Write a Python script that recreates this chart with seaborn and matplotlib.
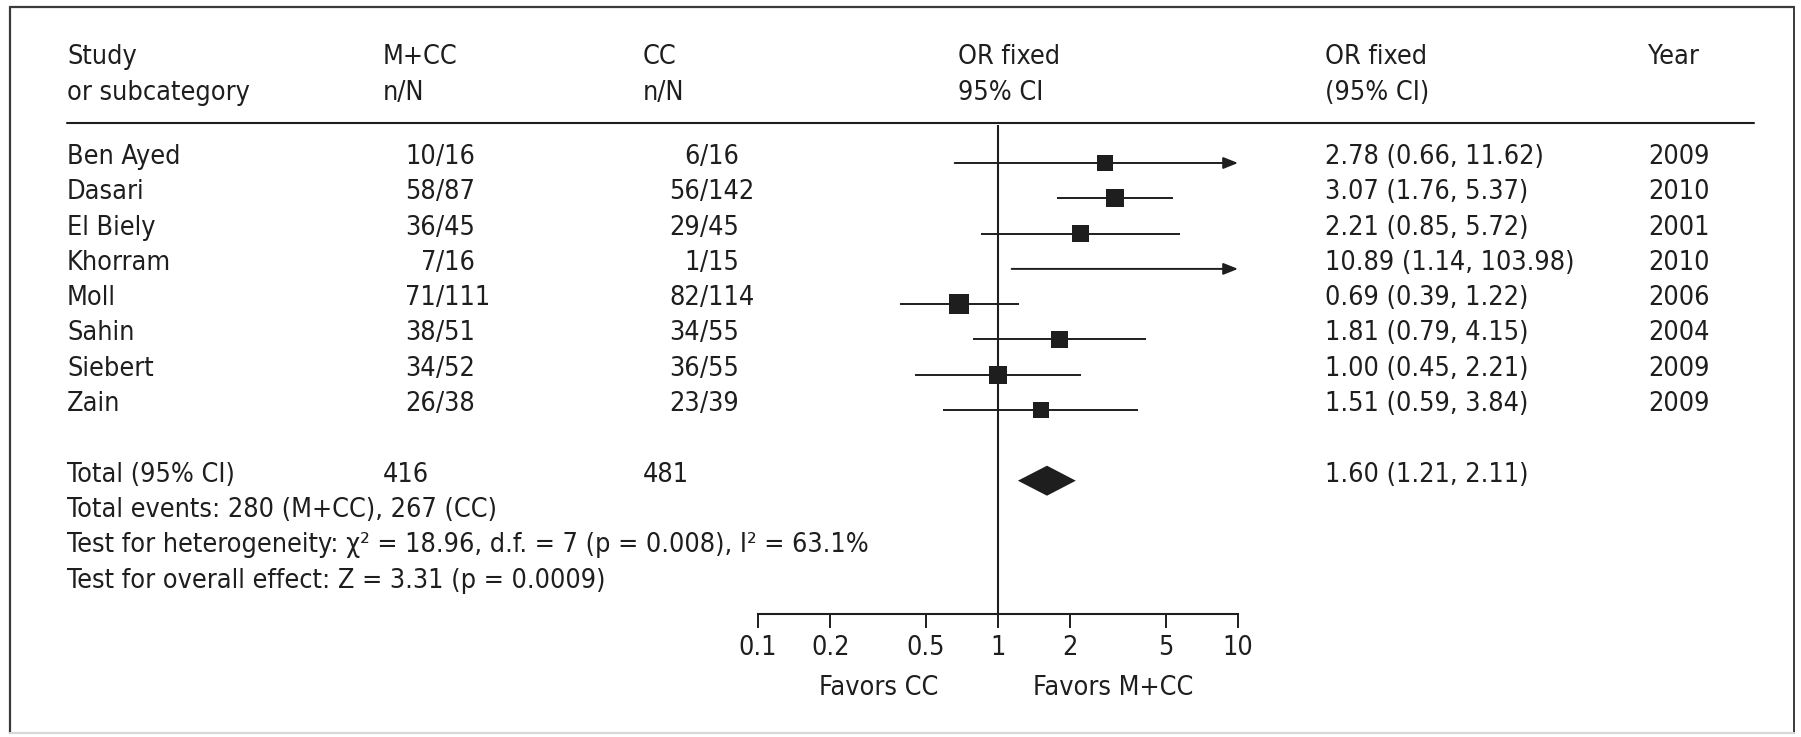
import os
import numpy as np
import pandas as pd
import matplotlib
matplotlib.use("Agg")
import matplotlib.pyplot as plt
import matplotlib.transforms as mtransforms
from matplotlib.font_manager import FontProperties, findSystemFonts, fontManager
from matplotlib.lines import Line2D
from matplotlib.ticker import NullLocator
import seaborn as sns

# ---------------- data ----------------
studies = ["Ben Ayed", "Dasari", "El Biely", "Khorram", "Moll", "Sahin", "Siebert", "Zain"]
mcc_n = [10, 58, 36, 7, 71, 38, 34, 26]
mcc_N = [16, 87, 45, 16, 111, 51, 52, 38]
cc_n = [6, 56, 29, 1, 82, 34, 36, 23]
cc_N = [16, 142, 45, 15, 114, 55, 55, 39]
or_est = [2.78, 3.07, 2.21, 10.89, 0.69, 1.81, 1.00, 1.51]
ci_low = [0.66, 1.76, 0.85, 1.14, 0.39, 0.79, 0.45, 0.59]
ci_high = [11.62, 5.37, 5.72, 103.98, 1.22, 4.15, 2.21, 3.84]
years = [2009, 2010, 2001, 2010, 2006, 2004, 2009, 2009]
# study weights (%), Mantel-Haenszel, derived from the n/N counts
weights = [2.8, 17.8, 7.3, 0.7, 36.6, 10.5, 15.2, 9.0]

total_mcc = 416
total_cc = 481
total_or = 1.60
total_low = 1.21
total_high = 2.11
footnotes = [
    "Total events: 280 (M+CC), 267 (CC)",
    "Test for heterogeneity: \u03c7\u00b2 = 18.96, d.f. = 7 (p = 0.008), I\u00b2 = 63.1%",
    "Test for overall effect: Z = 3.31 (p = 0.0009)",
]
tick_values = [0.1, 0.2, 0.5, 1, 2, 5, 10]
tick_labels = ["0.1", "0.2", "0.5", "1", "2", "5", "10"]
header_top = ["Study", "M+CC", "CC", "OR fixed", "OR fixed", "Year"]
header_bottom = ["or subcategory", "n/N", "n/N", "95% CI", "(95% CI)", ""]
favors = ["Favors CC", "Favors M+CC"]

# ---------------- style ----------------
sns.set_theme(style="white")
INK = "#1e1e1e"


def pick_font():
    cands = [("dejavusanscondensed.ttf", 19.4),
             ("liberationsansnarrow-regular.ttf", 22.0),
             ("robotocondensed-regular.ttf", 20.5)]
    files = {}
    try:
        allf = list(findSystemFonts()) + [e.fname for e in fontManager.ttflist]
    except Exception:
        allf = [e.fname for e in fontManager.ttflist]
    for f in allf:
        files.setdefault(os.path.basename(f).lower(), f)
    for name, size in cands:
        if name in files:
            return FontProperties(fname=files[name], size=size)
    return FontProperties(family="DejaVu Sans", size=16.5)


fp = pick_font()
plt.rcParams["font.family"] = ["DejaVu Sans"]

W, H = 1801, 737
fig = plt.figure(figsize=(W / 100, H / 100), dpi=100)
fig.patch.set_facecolor("white")


def fx(px):
    return px / W


def fy(py):
    return 1 - py / H


ROW0, ROWH = 163.0, 35.3
AX_TOP, AX_BOT, AX_L, AX_R = 125.0, 614.0, 758.0, 1238.0
ax = fig.add_axes([fx(AX_L), fy(AX_BOT), (AX_R - AX_L) / W, (AX_BOT - AX_TOP) / H])
ax.set_facecolor("none")
ax.set_xscale("log")
ax.set_xlim(0.1, 10)
ax.set_ylim((AX_BOT - ROW0) / ROWH, (AX_TOP - ROW0) / ROWH)

n = len(studies)
rows = np.arange(n)
TOTAL_ROW = n + 1

df = pd.DataFrame({"study": studies, "or": or_est, "lo": ci_low, "hi": ci_high,
                   "weight": weights, "row": rows})

# confidence intervals
for _, r in df.iterrows():
    lo = max(r["lo"], 0.1)
    if r["hi"] > 10:
        ax.annotate("", xy=(10, r["row"]), xytext=(lo, r["row"]),
                    arrowprops=dict(arrowstyle="-|>,head_length=0.4,head_width=0.16",
                                    color=INK, lw=1.4, mutation_scale=22,
                                    shrinkA=0, shrinkB=0), zorder=2)
    else:
        ax.hlines(r["row"], lo, r["hi"], color=INK, lw=1.4, zorder=2)

# squares (only those inside the plotted range)
vis = df[df["or"] <= 10]
sns.scatterplot(data=vis, x="or", y="row", size="weight", sizes=(127, 207),
                size_norm=(min(weights), max(weights)), marker="s", color=INK,
                linewidth=0, legend=False, ax=ax, zorder=3)

# pooled diamond
hh = 15.0 / ROWH
ax.fill([total_low, total_or, total_high, total_or],
        [TOTAL_ROW, TOTAL_ROW - hh, TOTAL_ROW, TOTAL_ROW + hh], color=INK, lw=0, zorder=3)

# line of no effect
ax.axvline(1, color=INK, lw=1.5, zorder=1)

# axis styling
for s in ["top", "left", "right"]:
    ax.spines[s].set_visible(False)
ax.spines["bottom"].set_color(INK)
ax.spines["bottom"].set_linewidth(1.5)
ax.set_yticks([])
ax.set_xticks(tick_values)
ax.xaxis.set_minor_locator(NullLocator())
ax.set_xticklabels(tick_labels, fontproperties=fp, color=INK)
ax.tick_params(axis="x", length=10, width=1.4, pad=5, direction="out", colors=INK,
               bottom=True)
ax.set_xlabel("")
ax.set_ylabel("")
ax.grid(False)

ax.text(0.252, -(688 - AX_BOT) / (AX_BOT - AX_TOP), favors[0], transform=ax.transAxes,
        ha="center", va="center", fontproperties=fp, color=INK)
ax.text(0.74, -(688 - AX_BOT) / (AX_BOT - AX_TOP), favors[1], transform=ax.transAxes,
        ha="center", va="center", fontproperties=fp, color=INK)

# ---------------- table text ----------------
blend = mtransforms.blended_transform_factory(fig.transFigure, ax.transData)
ttext = mtransforms.offset_copy(blend, fig=fig, x=0, y=6, units="dots")

X_STUDY, X_MCC, X_CC, X_PLOT, X_RES, X_YEAR = 67, 383, 643, 958, 1325, 1648
SLASH_MCC, SLASH_CC = 436, 700


def t(xp, y, s, ha="left"):
    ax.text(fx(xp), y, s, transform=ttext, ha=ha, va="center", fontproperties=fp,
            color=INK, clip_on=False)


for i in range(n):
    t(X_STUDY, i, studies[i])
    t(SLASH_MCC, i, str(mcc_n[i]), ha="right")
    t(SLASH_MCC, i, "/" + str(mcc_N[i]))
    t(SLASH_CC, i, str(cc_n[i]), ha="right")
    t(SLASH_CC, i, "/" + str(cc_N[i]))
    t(X_RES, i, f"{or_est[i]:.2f} ({ci_low[i]:.2f}, {ci_high[i]:.2f})")
    t(X_YEAR, i, str(years[i]))

t(X_STUDY, TOTAL_ROW, "Total (95% CI)")
t(X_MCC, TOTAL_ROW, str(total_mcc))
t(X_CC, TOTAL_ROW, str(total_cc))
t(X_RES, TOTAL_ROW, f"{total_or:.2f} ({total_low:.2f}, {total_high:.2f})")
for k, line in enumerate(footnotes):
    t(X_STUDY, TOTAL_ROW + 1 + k, line)

# headers
for xp, a, b in zip([X_STUDY, X_MCC, X_CC, X_PLOT, X_RES, X_YEAR], header_top, header_bottom):
    fig.text(fx(xp), fy(57), a, ha="left", va="center", fontproperties=fp, color=INK)
    if b:
        fig.text(fx(xp), fy(93), b, ha="left", va="center", fontproperties=fp, color=INK)

fig.add_artist(Line2D([fx(67), fx(1754)], [fy(123), fy(123)], transform=fig.transFigure,
                      color=INK, lw=1.5))

# outer frame
frame_dark = "#3a3a3a"
fig.add_artist(Line2D([fx(10), fx(10)], [fy(7), fy(733)], transform=fig.transFigure, color=frame_dark, lw=1.6))
fig.add_artist(Line2D([fx(10), fx(1794)], [fy(7), fy(7)], transform=fig.transFigure, color=frame_dark, lw=1.6))
fig.add_artist(Line2D([fx(1794), fx(1794)], [fy(7), fy(733)], transform=fig.transFigure, color=frame_dark, lw=1.4))
fig.add_artist(Line2D([fx(10), fx(1794)], [fy(733), fy(733)], transform=fig.transFigure, color="#d8d8d8", lw=1.6))

fig.savefig("out.png", dpi=100, facecolor="white")
